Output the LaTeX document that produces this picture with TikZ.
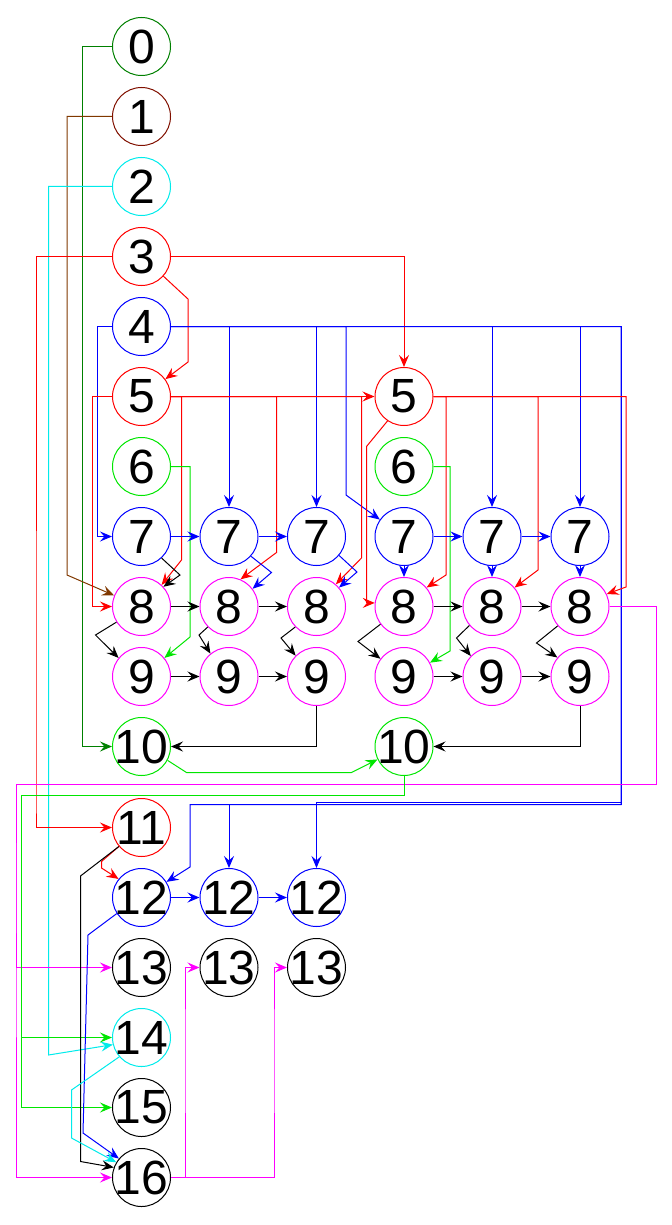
\documentclass[tikz,border=0pt]{standalone}
\usepackage{fontspec}
\setmainfont{Liberation Sans}
\usetikzlibrary{arrows.meta}
\definecolor{dkgreen}{RGB}{0,128,0}
\definecolor{mrn}{RGB}{128,16,0}
\definecolor{brwn}{RGB}{128,56,0}
\definecolor{cyn}{RGB}{0,235,235}
\definecolor{grn}{RGB}{0,230,0}
\definecolor{mag}{RGB}{255,0,255}

\begin{document}
\begin{tikzpicture}[x=0.5pt,y=-0.5pt,line width=0.5pt,>={Stealth[length=6pt,width=5pt,inset=2.2pt]},
    vtx/.style={circle,draw=#1,minimum size=29pt,inner sep=0pt,font=\fontsize{24}{24}\selectfont,
        execute at begin node={\hbox to 0pt\bgroup\hss},execute at end node={\hss\egroup}},
    lk/.style={draw=#1,->}]
            \useasboundingbox (0,0) rectangle (672,1225);
            \node[vtx=dkgreen] (v0) at (141.5,46.5) {0};
            \node[vtx=mrn] (v1) at (141.5,116.5) {1};
            \node[vtx=cyn] (v2) at (141.5,186.5) {2};
            \node[vtx=red] (v3) at (141.5,256.5) {3};
            \node[vtx=blue] (v4) at (141.5,326.5) {4};
            \node[vtx=red] (v5a) at (141.5,396.5) {5};
            \node[vtx=red] (v5d) at (404,396.5) {5};
            \node[vtx=grn] (v6a) at (141.5,466.5) {6};
            \node[vtx=grn] (v6d) at (404,466.5) {6};
            \node[vtx=blue] (v7a) at (141.5,536.5) {7};
            \node[vtx=blue] (v7b) at (229,536.5) {7};
            \node[vtx=blue] (v7c) at (316.5,536.5) {7};
            \node[vtx=blue] (v7d) at (404,536.5) {7};
            \node[vtx=blue] (v7e) at (492,536.5) {7};
            \node[vtx=blue] (v7f) at (580,536.5) {7};
            \node[vtx=mag] (v8a) at (141.5,606.5) {8};
            \node[vtx=mag] (v8b) at (229,606.5) {8};
            \node[vtx=mag] (v8c) at (316.5,606.5) {8};
            \node[vtx=mag] (v8d) at (404,606.5) {8};
            \node[vtx=mag] (v8e) at (492,606.5) {8};
            \node[vtx=mag] (v8f) at (580,606.5) {8};
            \node[vtx=mag] (v9a) at (141.5,676.5) {9};
            \node[vtx=mag] (v9b) at (229,676.5) {9};
            \node[vtx=mag] (v9c) at (316.5,676.5) {9};
            \node[vtx=mag] (v9d) at (404,676.5) {9};
            \node[vtx=mag] (v9e) at (492,676.5) {9};
            \node[vtx=mag] (v9f) at (580,676.5) {9};
            \node[vtx=grn] (v10a) at (141.5,746.5) {10};
            \node[vtx=grn] (v10d) at (404,746.5) {10};
            \node[vtx=red] (v11) at (141.5,827.5) {11};
            \node[vtx=blue] (v12a) at (141.5,897.5) {12};
            \node[vtx=blue] (v12b) at (229,897.5) {12};
            \node[vtx=blue] (v12c) at (316.5,897.5) {12};
            \node[vtx=black] (v13a) at (141.5,967.5) {13};
            \node[vtx=black] (v13b) at (229,967.5) {13};
            \node[vtx=black] (v13c) at (316.5,967.5) {13};
            \node[vtx=cyn] (v14) at (141.5,1037.5) {14};
            \node[vtx=black] (v15) at (141.5,1107.5) {15};
            \node[vtx=black] (v16) at (141.5,1177.5) {16};
            \draw[lk=dkgreen] (v0.west) -- ++(-30,0) |- (v10a.west);
            \draw[lk=brwn] (v1.west) -| (67,575) -- (v8a.158);
            \draw[lk=cyn] (v2.west) -| (48.5,1055) -- (v14.194);
            \draw[lk=red] (v3.west) -| (36,800) |- (v11.west);
            \draw[lk=red] (v3.east) -| (v5d.north);
            \draw[lk=red] (v3.-42) -- (188,299) -- (188,362) -- (v5a.36);
            \draw[lk=blue] (v4.west) -- ++(-15,0) |- (v7a.west);
            \draw[lk=blue] (v4.east) -| (v7b.north);
            \draw[lk=blue] (v4.east) -| (v7c.north);
            \draw[lk=blue] (v4.east) -| (346,495) -- (v7d.145);
            \draw[lk=blue] (v4.east) -| (v7e.north);
            \draw[lk=blue] (v4.east) -| (v7f.north);
            \draw[lk=blue] (v4.east) -| (621,804.5) -| (190,867) -- (v12a.32);
            \draw[lk=blue] (v4.east) -| (621,804.5) -| (v12b.north);
            \draw[lk=blue] (v4.east) -| (621,802.5) -| (v12c.north);
            \draw[lk=red] (v5a.west) -- ++(-20,0) |- (v8a.west);
            \draw[lk=red] (v5a.east) -| (181.5,560) -- (v8a.47);
            \draw[lk=red] (v5a.east) -| (276.5,552.5) -- (v8b.67);
            \draw[lk=red] (v5a.east) -| (361.5,558) -- (v8c.49);
            \draw[lk=red] (v5a) -- (v5d);
            \draw[lk=red] (v5d.236) -- (366.5,446.5) |- (v8d.173);
            \draw[lk=red] (v5d.east) -| (446,575) -- (v8d.40);
            \draw[lk=red] (v5d.east) -| (538,570) -- (v8e.40);
            \draw[lk=red] (v5d.east) -| (626,587) -- (v8f.25);
            \draw[lk=grn] (v6a.east) -| (190,637) -- (v9a.39);
            \draw[lk=grn] (v6d.east) -| (450,651) -- (v9d.28);
            \draw[lk=blue] (v7a) -- (v7b);
            \draw[lk=blue] (v7b) -- (v7c);
            \draw[lk=blue] (v7d) -- (v7e);
            \draw[lk=blue] (v7e) -- (v7f);
            \draw[lk=blue] (v7d) -- (v8d);
            \draw[lk=blue] (v7e) -- (v8e);
            \draw[lk=blue] (v7f) -- (v8f);
            \draw[lk=black] (v7a.-47) -- (180,575) -- (v8a.42);
            \draw[lk=blue] (v7b.-42) -- (271.5,572.5) -- (v8b.37);
            \draw[lk=blue] (v7c.-40) -- (357,572) -- (v8c.40);
            \draw[lk=black] (v8a) -- (v8b);
            \draw[lk=black] (v8b) -- (v8c);
            \draw[lk=black] (v8d) -- (v8e);
            \draw[lk=black] (v8e) -- (v8f);
            \draw[lk=black] (v8a.212) -- (95.5,635) -- (v9a.141);
            \draw[lk=black] (v8b.224) -- (199,635) -- (v9b.129);
            \draw[lk=black] (v8c.224) -- (281,638) -- (v9c.135);
            \draw[lk=black] (v8d.217) -- (358,641.5) -- (v9d.143);
            \draw[lk=black] (v8e.220) -- (456.5,638) -- (v9e.136);
            \draw[lk=black] (v8f.221) -- (536.5,643) -- (v9f.140);
            \draw[lk=mag] (v8f.east) -| (656,784.5) -| (16,900) |- (v13a.west);
            \draw[lk=mag] (v8f.east) -| (656,784.5) -| (16,900) |- (v16.west);
            \draw[lk=black] (v9a) -- (v9b);
            \draw[lk=black] (v9b) -- (v9c);
            \draw[lk=black] (v9d) -- (v9e);
            \draw[lk=black] (v9e) -- (v9f);
            \draw[lk=black] (v9c.south) |- (v10a.east);
            \draw[lk=black] (v9f.south) |- (v10d.east);
            \draw[lk=grn] (v10a.-28) -- (186.5,772.5) -- (351.5,772.5) -- (v10d.206);
            \draw[lk=grn] (v10d.south) |- (21,795) |- (v14.west);
            \draw[lk=grn] (v10d.south) |- (21,795) |- (v15.west);
            \draw[lk=red] (v11.220) -- (101.5,861.5) -- (101.5,868) -- (v12a.141);
            \draw[lk=black] (v11.220) -- (80.5,876) -- (80.5,1161.5) -- (v16.160);
            \draw[lk=blue] (v12a) -- (v12b);
            \draw[lk=blue] (v12b) -- (v12c);
            \draw[lk=blue] (v12a.213) -- (88,935) -- (83,1133) -- (v16.140);
            \draw[lk=cyn] (v14.221) -- (71.5,1090) -- (71.5,1138) -- (v16.149);
            \draw[lk=mag] (v16.east) -| (185,1050) |- (v13b.west);
            \draw[lk=mag] (v16.east) -| (274,1050) |- (v13c.west);
\end{tikzpicture}
\end{document}
